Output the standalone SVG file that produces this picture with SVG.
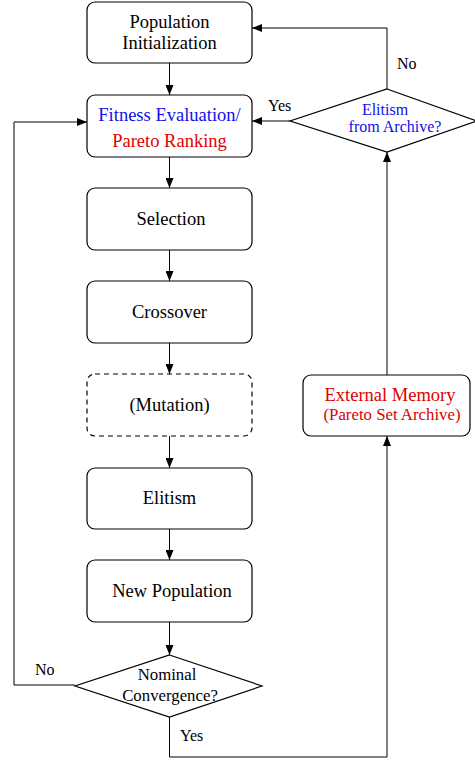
<svg xmlns="http://www.w3.org/2000/svg" width="475" height="761" viewBox="0 0 475 761">
<defs>
<marker id="ah" markerWidth="10" markerHeight="8" refX="10" refY="4" orient="auto" markerUnits="userSpaceOnUse">
<path d="M0,0 L10,4 L0,8 Z" fill="#000"/>
</marker>
<style>
.box{fill:#fff;stroke:#000;stroke-width:1.2}
.dash{stroke-dasharray:5,4}
.dia{fill:#fff;stroke:#000;stroke-width:1.2}
.ln{fill:none;stroke:#000;stroke-width:1}
text{font-family:'Liberation Serif','DejaVu Serif',serif}
.t{font-size:18.5px;text-anchor:middle;fill:#000}
.s{font-size:16.8px}
.xs{font-size:16px}
.blue{fill:#1010e8}
.red{fill:#e00000}
.lab{font-size:16px;fill:#000}
</style>
</defs>
<g id="connectors">
<line class="ln" x1="169.5" y1="63" x2="169.5" y2="95" marker-end="url(#ah)"/>
<line class="ln" x1="169.5" y1="157" x2="169.5" y2="188" marker-end="url(#ah)"/>
<line class="ln" x1="169.5" y1="250" x2="169.5" y2="281" marker-end="url(#ah)"/>
<line class="ln" x1="169.5" y1="343" x2="169.5" y2="374" marker-end="url(#ah)"/>
<line class="ln" x1="169.5" y1="436" x2="169.5" y2="468" marker-end="url(#ah)"/>
<line class="ln" x1="169.5" y1="529" x2="169.5" y2="560" marker-end="url(#ah)"/>
<line class="ln" x1="169.5" y1="622" x2="169.5" y2="655" marker-end="url(#ah)"/>
<polyline class="ln" points="75,685 14,685 14,122 87,122" marker-end="url(#ah)"/>
<polyline class="ln" points="169.5,717 169.5,757 387,757 387,436" marker-end="url(#ah)"/>
<line class="ln" x1="387" y1="375" x2="387" y2="152" marker-end="url(#ah)"/>
<line class="ln" x1="290" y1="121" x2="252" y2="121" marker-end="url(#ah)"/>
<polyline class="ln" points="387,89 387,28 252,28" marker-end="url(#ah)"/>
<text class="lab" x="35" y="675">No</text>
<text class="lab" x="180" y="741">Yes</text>
<text class="lab" x="268" y="111">Yes</text>
<text class="lab" x="397" y="69">No</text>
</g>
<g id="init">
<rect class="box" x="87" y="2" width="165" height="61" rx="8"/>
<text class="t" x="169.5" y="28">Population</text>
<text class="t" x="169.5" y="49">Initialization</text>
</g>
<g id="fitness">
<rect class="box" x="87" y="95" width="165" height="62" rx="8"/>
<text class="t blue" x="169.5" y="121">Fitness Evaluation/</text>
<text class="t red" x="169.5" y="147">Pareto Ranking</text>
</g>
<g id="selection">
<rect class="box" x="87" y="188" width="165" height="62" rx="8"/>
<text class="t" x="171" y="225">Selection</text>
</g>
<g id="crossover">
<rect class="box" x="87" y="281" width="165" height="62" rx="8"/>
<text class="t" x="169.5" y="318">Crossover</text>
</g>
<g id="mutation">
<rect class="box dash" x="87" y="374" width="165" height="62" rx="8"/>
<text class="t" x="169.5" y="411">(Mutation)</text>
</g>
<g id="elitism">
<rect class="box" x="87" y="468" width="165" height="61" rx="8"/>
<text class="t" x="169.5" y="504">Elitism</text>
</g>
<g id="newpop">
<rect class="box" x="87" y="560" width="165" height="62" rx="8"/>
<text class="t" x="172" y="597">New Population</text>
</g>
<g id="convergence">
<polygon class="dia" points="169.5,655 262,686 169.5,717 75,686"/>
<text class="t s" x="167" y="680">Nominal</text>
<text class="t s" x="170" y="701">Convergence?</text>
</g>
<g id="memory">
<rect class="box" x="303" y="375" width="167" height="61" rx="8"/>
<text class="t red" x="390" y="401">External Memory</text>
<text class="t red s" x="392" y="420">(Pareto Set Archive)</text>
</g>
<g id="archive">
<polygon class="dia" points="387,89 477,121 387,152 290,121"/>
<text class="t xs blue" x="385" y="115">Elitism</text>
<text class="t xs blue" x="395" y="132">from Archive?</text>
</g>
</svg>
